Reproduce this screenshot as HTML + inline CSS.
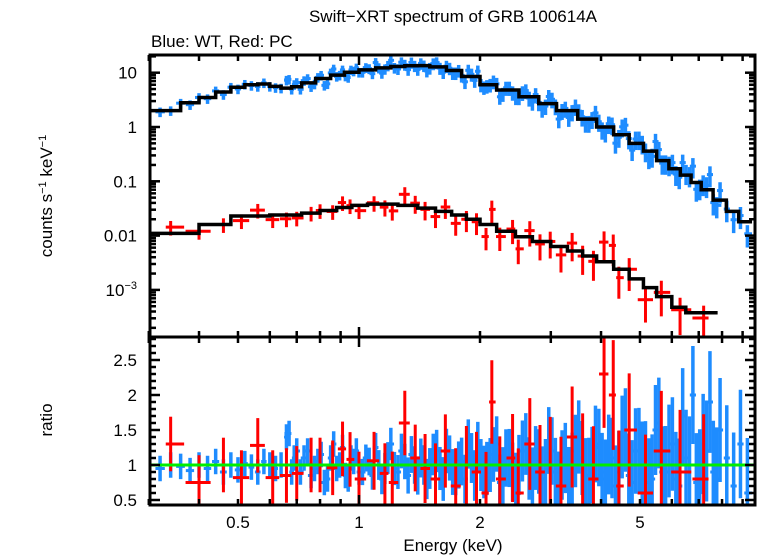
<!DOCTYPE html>
<html><head><meta charset="utf-8"><style>
body{margin:0;background:#fff;}
svg{display:block;font-family:"Liberation Sans",sans-serif;}
</style></head><body>
<svg id="chart" width="758" height="556" viewBox="0 0 758 556" xmlns="http://www.w3.org/2000/svg">
<text x="453" y="22" font-size="17" text-anchor="middle">Swift−XRT spectrum of GRB 100614A</text>
<text x="151" y="47" font-size="17">Blue: WT, Red: PC</text>
<text transform="translate(52,196) rotate(-90)" font-size="17" text-anchor="middle">counts s<tspan dy="-6" font-size="11">−1</tspan><tspan dy="6"> keV</tspan><tspan dy="-6" font-size="11">−1</tspan></text>
<text transform="translate(52,420) rotate(-90)" font-size="17" text-anchor="middle">ratio</text>
<text x="453" y="551" font-size="17" text-anchor="middle">Energy (keV)</text>
<g id="marks"></g>
<g id="axes"></g>
</svg>
<script>
const blueModelE=[0.30,0.33,0.36,0.40,0.44,0.48,0.52,0.56,0.60,0.64,0.68,0.72,0.78,0.85,0.92,1.0,1.1,1.2,1.3,1.4,1.5,1.65,1.8,2.0,2.2,2.5,2.8,3.1,3.5,3.9,4.3,4.7,5.1,5.5,5.9,6.3,6.7,7.1,7.6,8.2,8.8,9.5];
const blueModelV=[2.0,2.0,2.8,3.5,4.4,5.4,6.0,6.2,5.6,5.2,5.5,6.5,7.8,9.0,10.2,11.3,12.3,13.0,13.4,13.5,12.8,11.0,8.5,6.0,4.8,3.6,2.7,2.0,1.4,1.0,0.72,0.5,0.36,0.24,0.17,0.13,0.095,0.07,0.045,0.028,0.018,0.012];
const redModelE=[0.30,0.40,0.48,0.60,0.66,0.72,0.80,0.88,0.96,1.05,1.15,1.25,1.40,1.55,1.70,1.85,2.0,2.2,2.45,2.7,3.0,3.3,3.6,3.9,4.3,4.7,5.1,5.5,6.0,6.5,7.8];
const redModelV=[0.011,0.016,0.023,0.024,0.024,0.026,0.029,0.033,0.036,0.038,0.038,0.036,0.032,0.028,0.024,0.020,0.016,0.012,0.0095,0.0078,0.0063,0.0052,0.0042,0.0033,0.0024,0.0016,0.0011,0.00075,0.00048,0.00038,0.00038];
const blueE=[0.32,0.34,0.36,0.38,0.40,0.42,0.44,0.46,0.48,0.50,0.52,0.54,0.56,0.58,0.60,0.62,0.64,0.66,0.68,0.70,0.73,0.76,0.79,0.82,0.85,0.88,0.91,0.94,0.97,1.00,1.04,1.08,1.12,1.16,1.20,1.25,1.30,1.35,1.40,1.45,1.50,1.56,1.62,1.68,1.74,1.80,1.87,1.94,2.01,2.08,2.16,2.24,2.32,2.41,2.50,2.60,2.70,2.80,2.91,3.02,3.14,3.26,3.39,3.52,3.66,3.80,3.95,4.10,4.26,4.43,4.60,4.78,4.97,5.16,5.36,5.57,5.79,6.02,6.26,6.51,6.77,7.04,7.32,7.61,7.91,8.22,8.55,8.89,9.25];
const blueRatio=[0.95,1.0,0.98,0.92,1.0,0.95,1.05,0.9,1.0,0.93,1.02,0.97,0.9,1.05,1.0,0.95,1.0,1.4,0.9,1.2,1.1,0.85,1.05,0.75,1.1,0.95,1.25,0.8,1.05,0.9,1.1,0.85,1.0,0.95,1.3,0.9,1.05,1.15,0.85,1.0,0.95,1.2,0.8,1.1,0.9,1.05,1.3,0.85,1.0,0.95,1.15,0.75,1.1,0.9,1.0,1.3,0.8,1.05,0.9,1.2,0.7,1.1,0.95,1.4,0.85,1.0,1.25,0.8,1.1,0.9,1.5,0.75,1.2,1.0,0.8,1.6,0.9,1.3,0.7,1.1,2.0,0.8,1.2,0.9,1.5,1.1,0.7,1.3,0.6];
const blueE2=[0.67,0.69,0.715,0.745,0.775,0.805,0.835,0.865,0.895,0.925,0.955,0.985,1.02,1.06,1.10,1.14,1.18,1.225,1.275,1.325,1.375,1.425,1.475,1.53,1.59,1.65,1.71,1.77,1.835,1.905,1.975,2.045,2.12,2.20,2.28,2.365,2.455,2.55,2.65,2.75,2.855,2.965,3.08,3.20,3.325,3.455,3.59,3.73,3.875,4.025,4.18,4.345,4.515,4.69,4.875,5.065,5.26,5.465,5.68,5.905,6.14,6.385,6.64,6.905,7.18,7.465,7.76];
const blueRatio2=[1.45,1.1,0.9,1.2,0.95,1.15,0.8,1.3,1.0,0.85,1.1,1.2,0.9,1.05,1.25,0.8,1.1,0.95,1.2,0.85,1.0,1.1,0.8,1.15,0.95,1.2,0.9,1.0,0.8,1.1,1.25,0.9,1.0,1.3,0.85,1.1,0.75,1.2,0.95,1.1,0.8,1.35,0.9,1.0,0.75,1.2,1.1,0.85,1.3,0.9,1.15,0.7,1.4,0.85,1.2,1.0,0.75,1.5,0.9,1.2,0.8,1.7,1.0,0.75,1.3,1.9,0.8];
const redE=[0.34,0.40,0.46,0.51,0.56,0.61,0.66,0.70,0.76,0.80,0.86,0.91,0.95,1.0,1.09,1.16,1.21,1.30,1.38,1.46,1.55,1.64,1.74,1.85,1.96,2.07,2.14,2.24,2.41,2.49,2.66,2.82,2.99,3.18,3.39,3.60,3.83,4.07,4.29,4.43,4.70,5.16,5.65,6.29,7.2];
const redRatio=[1.3,0.75,1.0,0.82,1.28,0.82,0.85,0.88,1.0,1.0,0.96,1.23,1.08,0.8,1.06,0.88,0.75,1.6,1.1,0.95,0.8,1.2,0.7,1.0,0.9,0.6,1.9,0.8,1.1,0.6,1.3,0.9,1.0,0.7,1.4,1.0,0.8,2.3,2.0,0.7,1.5,0.6,1.2,0.9,0.8];
const xTicks=[0.5,1,2,5];
const yTopTicks=[10,1,0.1,0.01];
const yBotTicks=[0.5,1,1.5,2,2.5];

const L=150,R=755,T=55,M=337,B=505;
const xS=e=>359+402*Math.log10(e);
const yT=v=>127-54.3*Math.log10(v);
const yB=r=>465-70*(r-1);
const NS="http://www.w3.org/2000/svg";
const marks=document.getElementById('marks'),axes=document.getElementById('axes');
function el(tag,attrs,parent){const e=document.createElementNS(NS,tag);for(const k in attrs)e.setAttribute(k,attrs[k]);parent.appendChild(e);return e;}
function modelAt(E,V,e){for(let i=E.length-1;i>=0;i--){if(e>=E[i])return V[i];}return V[0];}
function clampTop(y){return Math.max(T,Math.min(M,y));}
function clampBot(y){return Math.max(M,Math.min(B,y));}

function drawPoints(E,Rt,ME,MV,color,name,hwMult,errBase,topBase,topSlope,sw){
  for(let i=0;i<E.length&&i<Rt.length;i++){
    const e=E[i],r=Rt[i];
    const lo=i>0?Math.sqrt(E[i-1]*e):e/1.03, hi=i<E.length-1?Math.sqrt(E[i+1]*e):e*1.03;
    const x1=xS(lo),x2=xS(hi);
    const xa=xS(e)-(xS(e)-x1)*hwMult,xb=xS(e)+(x2-xS(e))*hwMult;
    const err=errBase+0.12*Math.max(0,Math.log10(e))*4;
    const m=modelAt(ME,MV,e),v=m*r;
    const te=topBase+topSlope*Math.max(0,Math.log10(e));
    const g=el('g',{},marks);
    
    
    el('line',{x1:xa,x2:xb,y1:yT(v),y2:yT(v),stroke:color,'stroke-width':3},g);
    el('line',{x1:xS(e),x2:xS(e),y1:clampTop(yT(v*(1+te))),y2:clampTop(yT(Math.max(v*(1-te),1e-6))),stroke:color,'stroke-width':sw},g);
    const gr=el('g',{},marks);
    
    
    el('line',{x1:xa,x2:xb,y1:clampBot(yB(r)),y2:clampBot(yB(r)),stroke:color,'stroke-width':3},gr);
    el('line',{x1:xS(e),x2:xS(e),y1:clampBot(yB(r+err*1.3)),y2:clampBot(yB(r-err*1.3)),stroke:color,'stroke-width':sw},gr);
  }
}
function drawModel(E,V,name){
  let d='';
  for(let i=0;i<E.length-1;i++){
    const x1=xS(E[i]),x2=xS(E[i+1]),y=yT(V[i]);
    d+=(i===0?'M':'L')+x1+' '+y+' L'+x2+' '+y+' ';
  }
  const p=el('path',{d:d,fill:'none',stroke:'#000','stroke-width':3.5},marks);
  
  
}
drawPoints(blueE,blueRatio,blueModelE,blueModelV,'#1e8cff','wt',0.9,0.14,0.2,0.25,3.5);
drawPoints(blueE2,blueRatio2,blueModelE,blueModelV,'#1e8cff','wt-extra',0.9,0.14,0.2,0.25,3.5);
drawPoints(redE,redRatio,redModelE,redModelV,'#ff0000','pc',0.95,0.3,0.3,0.45,3);
drawModel(blueModelE,blueModelV,'wt-model-line');
drawModel(redModelE,redModelV,'pc-model-line');
const g1=el('line',{x1:L,x2:R,y1:yB(1),y2:yB(1),stroke:'#00ee00','stroke-width':3},marks);



[[T,M],[M,B]].forEach(([t,b],k)=>{
  const r=el('rect',{x:L,y:t,width:R-L,height:b-t,fill:'none',stroke:'#000','stroke-width':3},axes);
  
  
});
for(let d=0.1;d<10;d*=10){for(let j=1;j<10;j++){const e=d*j;if(e<0.3||e>9.67)continue;
  const x=xS(e),major=(j===1);const len=major?10:6;
  [[T,1],[M,-1],[M,1],[B,-1]].forEach(([y,s])=>el('line',{x1:x,x2:x,y1:y,y2:y+s*len,stroke:'#000','stroke-width':2.5},axes));
}}
xTicks.forEach(e=>{const t=el('text',{x:xS(e),y:528,'font-size':17,'text-anchor':'middle'},axes);t.textContent=String(e);
  });
for(let p=-4;p<2;p++){for(let j=1;j<10;j++){const v=Math.pow(10,p)*j;const y=yT(v);if(y<T||y>M)continue;const len=j===1?10:6;
  el('line',{x1:L,x2:L+len,y1:y,y2:y,stroke:'#000','stroke-width':2.5},axes);
  el('line',{x1:R,x2:R-len,y1:y,y2:y,stroke:'#000','stroke-width':2.5},axes);}}
yTopTicks.forEach(v=>{const t=el('text',{x:137,y:yT(v)+6,'font-size':17,'text-anchor':'end'},axes);t.textContent=String(v);
  });
const t3=el('text',{x:137,y:yT(0.001)+6,'font-size':17,'text-anchor':'end'},axes);
t3.innerHTML='10<tspan dy="-7" font-size="11">−3</tspan>';


for(let r=0.5;r<=2.81;r+=0.1){const y=yB(r);const major=Math.abs(r*2-Math.round(r*2))<0.01;const len=major?10:6;
  el('line',{x1:L,x2:L+len,y1:y,y2:y,stroke:'#000','stroke-width':2.5},axes);
  el('line',{x1:R,x2:R-len,y1:y,y2:y,stroke:'#000','stroke-width':2.5},axes);}
yBotTicks.forEach(v=>{const t=el('text',{x:137,y:yB(v)+6,'font-size':17,'text-anchor':'end'},axes);t.textContent=String(v);
  });
</script>
</body></html>
